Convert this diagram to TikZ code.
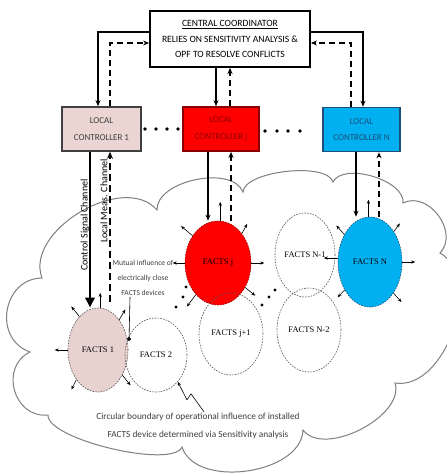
\documentclass[tikz,border=0pt]{standalone}
\usepackage{fontspec}
\setmainfont{Carlito}
\newfontfamily\tnr{Liberation Serif}
\usetikzlibrary{arrows.meta,shapes.geometric,calc}
\definecolor{lcpink}{HTML}{EAD5D3}
\definecolor{fpink}{HTML}{E8D2D0}
\definecolor{myred}{HTML}{FF0000}
\definecolor{darkred}{HTML}{8B0000}
\definecolor{myblue}{HTML}{00B0F0}
\definecolor{darkblue}{HTML}{1F4E79}
\definecolor{cloudgray}{HTML}{7F7F7F}
\definecolor{dashgray}{HTML}{555555}
\definecolor{txtgray}{HTML}{3F3F3F}
\begin{document}
\begin{tikzpicture}[x=1pt,y=1pt,
  ccbox/.style={draw, line width=1.8pt, minimum width=160pt, minimum height=56pt,
    align=center, inner sep=0pt, font=\fontsize{9.6}{15.5}\selectfont},
  lcbox/.style={draw, line width=1.6pt, minimum height=44pt, align=center, inner sep=0pt,
    font=\fontsize{9}{16.5}\selectfont},
  conn/.style={line width=1.6pt, -{Stealth[length=6pt,width=5pt]}},
  dconn/.style={line width=1.6pt, dash pattern=on 6pt off 4pt, -{Stealth[length=6pt,width=5pt]}},
  facts/.style={ellipse, draw=dashgray, line width=0.6pt, dash pattern=on 1.6pt off 1.2pt,
    inner sep=0pt, font=\tnr\fontsize{8.5}{10}\selectfont},
  small/.style={line width=0.6pt, -{Stealth[length=4pt,width=3.2pt]}},
  cloud/.style={draw=cloudgray, line width=1pt, fill=white},
  lbl/.style={align=center, inner sep=0pt, text=txtgray}
]
\useasboundingbox (0,0) rectangle (447,-475);

% cloud
\draw[cloud] (30,-352) to[bend left=80,looseness=1.35] (42,-278)
 to[bend left=80,looseness=0.97] (157,-210)
 to[bend left=80,looseness=0.86] (243,-192)
 to[bend left=80,looseness=0.6] (333,-182)
 to[bend left=80,looseness=0.8] (403,-203)
 to[bend left=80,looseness=1.17] (440,-253)
 to[bend left=80,looseness=0.95] (395,-383)
 to[bend left=80,looseness=0.86] (303,-430)
 to[bend left=80,looseness=0.93] (182,-447)
 to[bend left=80,looseness=0.45] (48,-415)
 to[bend left=80,looseness=1.35] (30,-352) -- cycle;

% central coordinator
\node[ccbox] (cc) at (230,-39) {\underline{CENTRAL COORDINATOR}\\RELIES ON SENSITIVITY ANALYSIS \&\\OPF TO RESOLVE CONFLICTS};

% local controllers
\node[lcbox, fill=lcpink, draw=txtgray, text=txtgray, minimum width=79pt] (lc1) at (101.5,-129) {LOCAL\\CONTROLLER 1};
\node[lcbox, fill=myred, draw=darkred, text=darkred, minimum width=76pt] (lcj) at (221,-129) {LOCAL\\CONTROLLER j};
\node[lcbox, fill=myblue, draw=darkblue, text=darkblue, minimum width=77pt] (lcn) at (361.5,-129.5) {LOCAL\\CONTROLLER N};

% dots between controllers
\foreach \x in {145,156,167,178} \fill (\x,-129) circle (1.9pt);
\foreach \x in {265,277,288,300} \fill (\x,-131) circle (1.9pt);

% coordinator connectors
\draw[conn] ([yshift=7pt]cc.west) -| ([xshift=-3.5pt]lc1.north);
\draw[dconn] ([xshift=8.5pt]lc1.north) |- ([yshift=-4pt]cc.west);
\draw[conn] ([xshift=-14pt]cc.south) -- ([xshift=-14pt]cc.south |- lcj.north);
\draw[dconn] ([xshift=9pt]lcj.north) -- ([xshift=9pt]lcj.north |- cc.south);
\draw[conn] ([yshift=7pt]cc.east) -| ([xshift=1.5pt]lcn.north);
\draw[dconn] ([xshift=-10.5pt]lcn.north) |- ([yshift=-4pt]cc.east);

% FACTS devices (filled)
\node[facts, fill=fpink, minimum width=60pt, minimum height=84pt] (f1) at (98,-350) {FACTS 1};
\node[facts, fill=myred, draw=darkred, minimum width=66pt, minimum height=84pt] (fj) at (218,-263) {FACTS j};
\node[facts, fill=myblue, draw=darkblue, minimum width=64pt, minimum height=90pt] (fn) at (370,-262) {FACTS N};
% FACTS devices (outlines only)
\node[facts, minimum width=62pt, minimum height=74pt] (f2) at (156,-355) {FACTS 2};
\node[facts, minimum width=64pt, minimum height=82pt] (fj1) at (231,-334) {FACTS j+1};
\node[facts, minimum width=60pt, minimum height=84pt] (fn1) at (305,-255) {FACTS N-1};
\node[facts, minimum width=64pt, minimum height=84pt] (fn2) at (309,-330) {FACTS N-2};

% controller <-> FACTS channels
\draw[line width=2.8pt, -{Triangle[length=10pt,width=9pt]}] ([xshift=-11.5pt]lc1.south) -- ([xshift=-11.5pt]lc1.south |- f1.north);
\draw[line width=2.2pt, dash pattern=on 7pt off 4pt, -{Stealth[length=7pt,width=6pt]}] ($(f1.north)+(12,6)$) -- ([xshift=8.5pt]lc1.south);
\draw[conn] ([xshift=-13pt]lcj.south) -- ([xshift=-13pt]lcj.south |- fj.north);
\draw[dconn, line width=1.9pt] ([xshift=10pt]lcj.south |- fj.north) -- ([xshift=10pt]lcj.south);
\draw[conn] ([xshift=-5.5pt]lcn.south) -- ([xshift=-5.5pt]lcn.south |- fn.north);
\draw[dconn, line width=1.9pt] ([xshift=17.5pt]lcn.south |- fn.north) -- ([xshift=17.5pt]lcn.south);

% channel labels
\node[rotate=90, inner sep=0pt, font=\fontsize{10}{12}\selectfont] (csc) at (85,-225) {Control Signal Channel};
\node[rotate=90, inner sep=0pt, font=\fontsize{10}{12}\selectfont] (lmc) at (104,-201) {Local Meas. Channel};

% small influence arrows
\draw[small] (f1.87) -- +(90:15);
\draw[small] (f1.119) -- +(129:13);
\draw[small] (f1.55) -- +(59:12);
\draw[small] (f1.180) -- +(180:13);
\draw[small] (f1.234) -- +(243:11);
\draw[small] (f1.314) -- +(309:13);

\draw[small] (fj.87) -- +(90:19);
\draw[small] (fj.133) -- +(140:15);
\draw[small] (fj.51) -- +(61:11);
\draw[small] (fj.180) -- +(180:12);
\draw[small] (fj.0) -- +(0:13);
\draw[small] (fj.235) -- +(233:15);
\draw[small] (fj.318) -- +(321:13);

\draw[small] (fn.92) -- +(90:17);
\draw[small] (fn.133) -- +(132:12);
\draw[small] (fn.52) -- +(53:10);
\draw[small] (fn.173) -- +(180:14);
\draw[small] (fn.0) -- +(0:13);
\draw[small] (fn.228) -- +(225:10);
\draw[small] (fn.307) -- +(312:12);

% dots near FACTS j
\foreach \p in {(186,-287),(183,-297),(176,-307),(275,-290),(269,-297),(262,-305)} \fill \p circle (1.7pt);

% mutual influence label
\node[lbl, font=\fontsize{7.6}{15}\selectfont] (mut) at (143,-278) {Mutual influence of\\electrically close\\FACTS devices};
\coordinate (mutend) at (129,-341);
\draw[line width=0.6pt, -{Circle[length=4pt]}] ($(mut.south)+(-13,-1)$) -- (mutend);

% bottom label with callout
\node[lbl, font=\fontsize{9.3}{18}\selectfont] (bl) at (198,-426) {Circular boundary of operational influence of installed\\FACTS device determined via Sensitivity analysis};
\draw[line width=0.6pt, -{Stealth[length=4pt,width=3.2pt]}] ($(bl.north)+(6,1)$) -- ++(-13,18) -- ++(-4,-6) -- (f2.-51);

\end{tikzpicture}
\end{document}
